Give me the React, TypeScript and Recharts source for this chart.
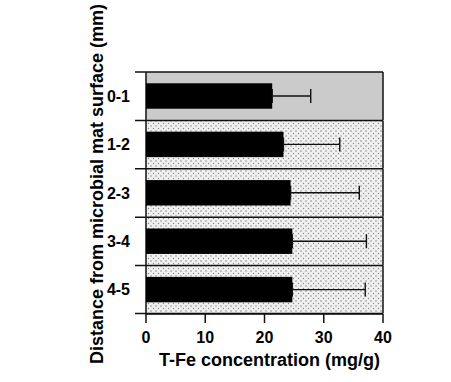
import { BarChart, Bar, XAxis, YAxis, ErrorBar } from "recharts";

const depths = ["0-1", "1-2", "2-3", "3-4", "4-5"];
const feValues = [21.3, 23.2, 24.4, 24.7, 24.7];
const feErrors = [6.5, 9.5, 11.6, 12.5, 12.3];
const xTicks = [0, 10, 20, 30, 40];

const data = depths.map((d, i) => ({ depth: d, fe: feValues[i], err: [0, feErrors[i]] }));

const FONT = "'Liberation Sans', Arial, sans-serif";

function RowBackground(props: any) {
  const { x, y, width, height, index } = props;
  const last = index === depths.length - 1;
  return (
    <g key={`row-${index}`}>
      <rect x={x} y={y} width={width} height={height} fill={index === 0 ? "#cbcbcb" : "url(#stipple)"} />
      <line x1={x - 11} x2={x + width} y1={y} y2={y} stroke="#111" strokeWidth={1.5} />
      {last && <line x1={x - 11} x2={x + width} y1={y + height} y2={y + height} stroke="#111" strokeWidth={1.5} />}
      <line x1={x} x2={x} y1={y} y2={y + height} stroke="#111" strokeWidth={1.5} />
      <line x1={x + width} x2={x + width} y1={y} y2={y + height} stroke="#111" strokeWidth={1.5} />
    </g>
  );
}

function SlimBar(props: any) {
  const { x, y, width, height } = props;
  const h = height * 0.53;
  return <rect x={x} y={y + (height - h) / 2} width={width} height={h} fill="#000" />;
}

export default function App() {
  return (
    <div style={{ position: "absolute", left: 0, top: 0, background: "#fff" }}>
      <BarChart
        width={451}
        height={382}
        data={data}
        layout="vertical"
        barCategoryGap={0}
        margin={{ top: 72, right: 68, bottom: 0, left: 0 }}
      >
        <defs>
          <pattern id="stipple" width="5" height="5" patternUnits="userSpaceOnUse">
            <rect width="5" height="5" fill="#f0f0f0" />
            <circle cx="1" cy="1" r="0.7" fill="#777" />
            <circle cx="3.5" cy="3.5" r="0.7" fill="#888" />
          </pattern>
        </defs>
        <XAxis
          type="number"
          domain={[0, 40]}
          ticks={xTicks}
          height={68}
          tickSize={9}
          tickMargin={9}
          axisLine={{ stroke: "#111", strokeWidth: 1.5 }}
          tickLine={{ stroke: "#111", strokeWidth: 1.5 }}
          tick={{ fontSize: 16, fontWeight: 700, fill: "#000", fontFamily: FONT }}
          label={{
            content: (p: any) => {
              const vb = p.viewBox;
              return (
                <text x={vb.x + vb.width / 2 + 5} y={vb.y + 52} textAnchor="middle"
                  style={{ fontSize: 18, fontWeight: 700, fontFamily: FONT, fill: "#000" }}>
                  T-Fe concentration (mg/g)
                </text>
              );
            },
          }}
        />
        <YAxis
          type="category"
          dataKey="depth"
          width={146}
          axisLine={false}
          tickLine={false}
          tickSize={0}
          tickMargin={16}
          tick={{ fontSize: 16, fontWeight: 700, fill: "#000", fontFamily: FONT }}
          label={{
            content: (p: any) => {
              const vb = p.viewBox;
              const cx = vb.x + 97;
              const cy = vb.y + vb.height / 2 - 9;
              return (
                <text x={cx} y={cy} textAnchor="middle" dominantBaseline="central"
                  transform={`rotate(-90 ${cx} ${cy})`}
                  style={{ fontSize: 18, fontWeight: 700, fontFamily: FONT, fill: "#000" }}>
                  Distance from microbial mat surface (mm)
                </text>
              );
            },
          }}
        />
        <Bar dataKey="fe" isAnimationActive={false} background={(p: any) => <RowBackground {...p} />} shape={(p: any) => <SlimBar {...p} />}>
          <ErrorBar dataKey="err" direction="x" width={7} stroke="#111" strokeWidth={1.4} isAnimationActive={false} />
        </Bar>
      </BarChart>
    </div>
  );
}
